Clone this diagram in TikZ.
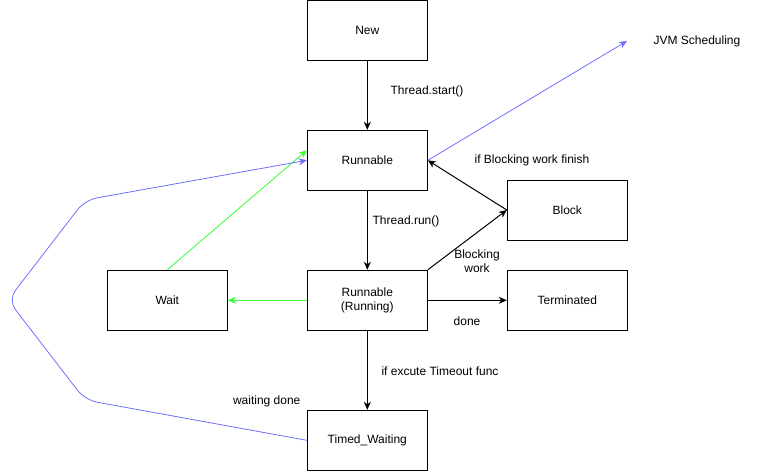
\documentclass[tikz,border=0pt]{standalone}
\usepackage{fontspec}
\setmainfont{Liberation Sans}
\usetikzlibrary{arrows.meta}
\definecolor{edgeblue}{HTML}{6F6FFF}
\definecolor{edgegreen}{HTML}{33FF33}
\begin{document}
\begin{tikzpicture}[x=1pt,y=-1pt,
  state/.style={draw, line width=1pt, minimum width=120pt, minimum height=60pt, inner sep=0pt, align=center, font=\fontsize{12}{14}\selectfont},
  lbl/.style={inner sep=0pt, align=center, font=\fontsize{12}{14}\selectfont},
  arr/.style={line width=1pt, -{Stealth[length=8pt,width=7pt,inset=2.5pt]}},
  thin arr/.style={line width=0.8pt, -{Stealth[length=8pt,width=7pt,inset=2.5pt]}}]
\useasboundingbox (0,0) rectangle (758,471);
\node[state] (new) at (367.3,30.3) {New};
\node[state] (run) at (367.3,160.3) {Runnable};
\node[state] (block) at (567.3,210) {Block};
\node[state] (running) at (367.3,300.3) {Runnable\\(Running)};
\node[state] (wait) at (167.3,300.3) {Wait};
\node[state] (term) at (567.3,300.3) {Terminated};
\node[state] (timed) at (367.3,440.3) {Timed\_Waiting};
\node[lbl] (jvm) at (697,41.5) {JVM Scheduling};
\coordinate (jvmend) at (627,41);
\coordinate (b1) at (85,400);
\coordinate (b2) at (8,300);
\coordinate (b3) at (85,200);
% labels
\node[lbl] (l1) at (427,91) {Thread.start()};
\node[lbl] (l2) at (532,160.7) {if Blocking work finish};
\node[lbl] (l3) at (406,221) {Thread.run()};
\node[lbl] (l4) at (477,261) {Blocking\\work};
\node[lbl] (l5) at (467,321.5) {done};
\node[lbl] (l6) at (440,371) {if excute Timeout func};
\node[lbl] (l7) at (266.7,401) {waiting done};
% edges
\draw[arr] (new) -- (run);
\draw[arr] (run) -- (running);
\draw[arr] (running) -- (timed);
\draw[arr] (running) -- (term);
\draw[arr] (running.north east) -- (block.west);
\draw[arr] (block.west) -- (run.east);
\draw[thin arr, edgeblue] (run.east) -- (jvmend);
\draw[thin arr, edgegreen] (running) -- (wait);
\draw[thin arr, edgegreen] (wait.north) -- ([yshift=10pt]run.west);
\draw[thin arr, edgeblue, rounded corners=12pt] (timed.west) -- (b1) -- (b2) -- (b3) -- (run.west);
\end{tikzpicture}
\end{document}
